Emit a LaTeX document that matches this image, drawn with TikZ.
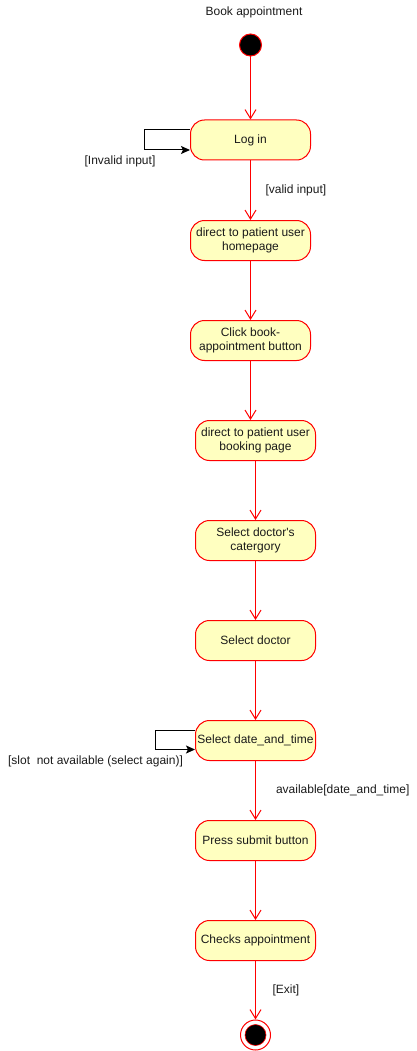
\documentclass[tikz,border=0pt]{standalone}
\usepackage{fontspec}
\setmainfont{Liberation Sans}
\usetikzlibrary{arrows.meta}

\definecolor{actfill}{HTML}{FFFFC0}
\definecolor{txtgray}{HTML}{1A1A1A}

\tikzset{
  action/.style={draw=red, fill=actfill, line width=1pt, rounded corners=14pt,
    minimum width=120pt, minimum height=40pt, align=center, text=txtgray,
    font=\fontsize{12}{14}\selectfont, inner sep=1pt},
  flow/.style={draw=red, line width=1pt, -{Straight Barb[length=9pt, width=11pt]}},
  selfloop/.style={draw=black, line width=1pt, -{Stealth[length=9pt, width=8pt, inset=2pt]}},
  guard/.style={text=txtgray, font=\fontsize{12}{14}\selectfont, inner sep=0pt}
}

\begin{document}
\begin{tikzpicture}[x=1pt, y=-1pt]
        \useasboundingbox (0, 0) rectangle (416, 1051);
        \node[guard] (title) at (254, 12) {Book appointment};
        \node[circle, draw=red, fill=black, line width=1pt,
          minimum size=22pt, inner sep=0pt] (start) at (250.5, 45) {};
        \node[action] (login) at (250.5, 140) {Log in};
        \node[action] (home) at (250.5, 240.5) {direct to patient user\\homepage};
        \node[action] (click) at (250.5, 340.5) {Click book-\\appointment button};
        \node[action] (booking) at (255.5, 440.5) {direct to patient user\\booking page};
        \node[action] (category) at (255.5, 540.5) {Select doctor\textquotesingle s\\catergory};
        \node[action] (doctor) at (255.5, 640.5) {Select doctor};
        \node[action] (datetime) at (255.5, 740.5) {Select date\_and\_time};
        \node[action] (submit) at (255.5, 840.5) {Press submit button};
        \node[action] (checks) at (255.5, 940.5) {Checks appointment};
        \node[circle, draw=red, fill=white, line width=1pt,
          minimum size=30pt, inner sep=0pt] (stop) at (255.5, 1035) {};
        \node[circle, draw=red, fill=black, line width=0.6pt,
          minimum size=21pt, inner sep=0pt] at (stop) {};

        % main flow
        \draw[flow] (start) -- (login);
        \draw[flow] (login) -- (home)
          node[guard, pos=0.5, right=14.5pt] {[valid input]};
        \draw[flow] (home) -- (click);
        \draw[flow] (click) -- (click.south |- booking.north);
        \draw[flow] (booking) -- (category);
        \draw[flow] (category) -- (doctor);
        \draw[flow] (doctor) -- (datetime);
        \draw[flow] (datetime) -- (submit)
          node[guard, pos=0.5, right=20pt] {available[date\_and\_time]};
        \draw[flow] (submit) -- (checks);
        \draw[flow] (checks) -- (stop)
          node[guard, pos=0.5, right=16.5pt] {[Exit]};

        % retries
        \draw[selfloop] ([yshift=10pt]login.west) -- ++(-46, 0)
          |- ([yshift=-10pt]login.west);
        \node[guard] (invalid) at (120, 161) {[Invalid input]};
        \draw[selfloop] ([yshift=10pt]datetime.west) -- ++(-40, 0)
          |- ([yshift=-9pt]datetime.west);
        \node[guard] (slot) at (95.5, 761) {[slot\ \ not available (select again)]};
      \end{tikzpicture}
\end{document}
